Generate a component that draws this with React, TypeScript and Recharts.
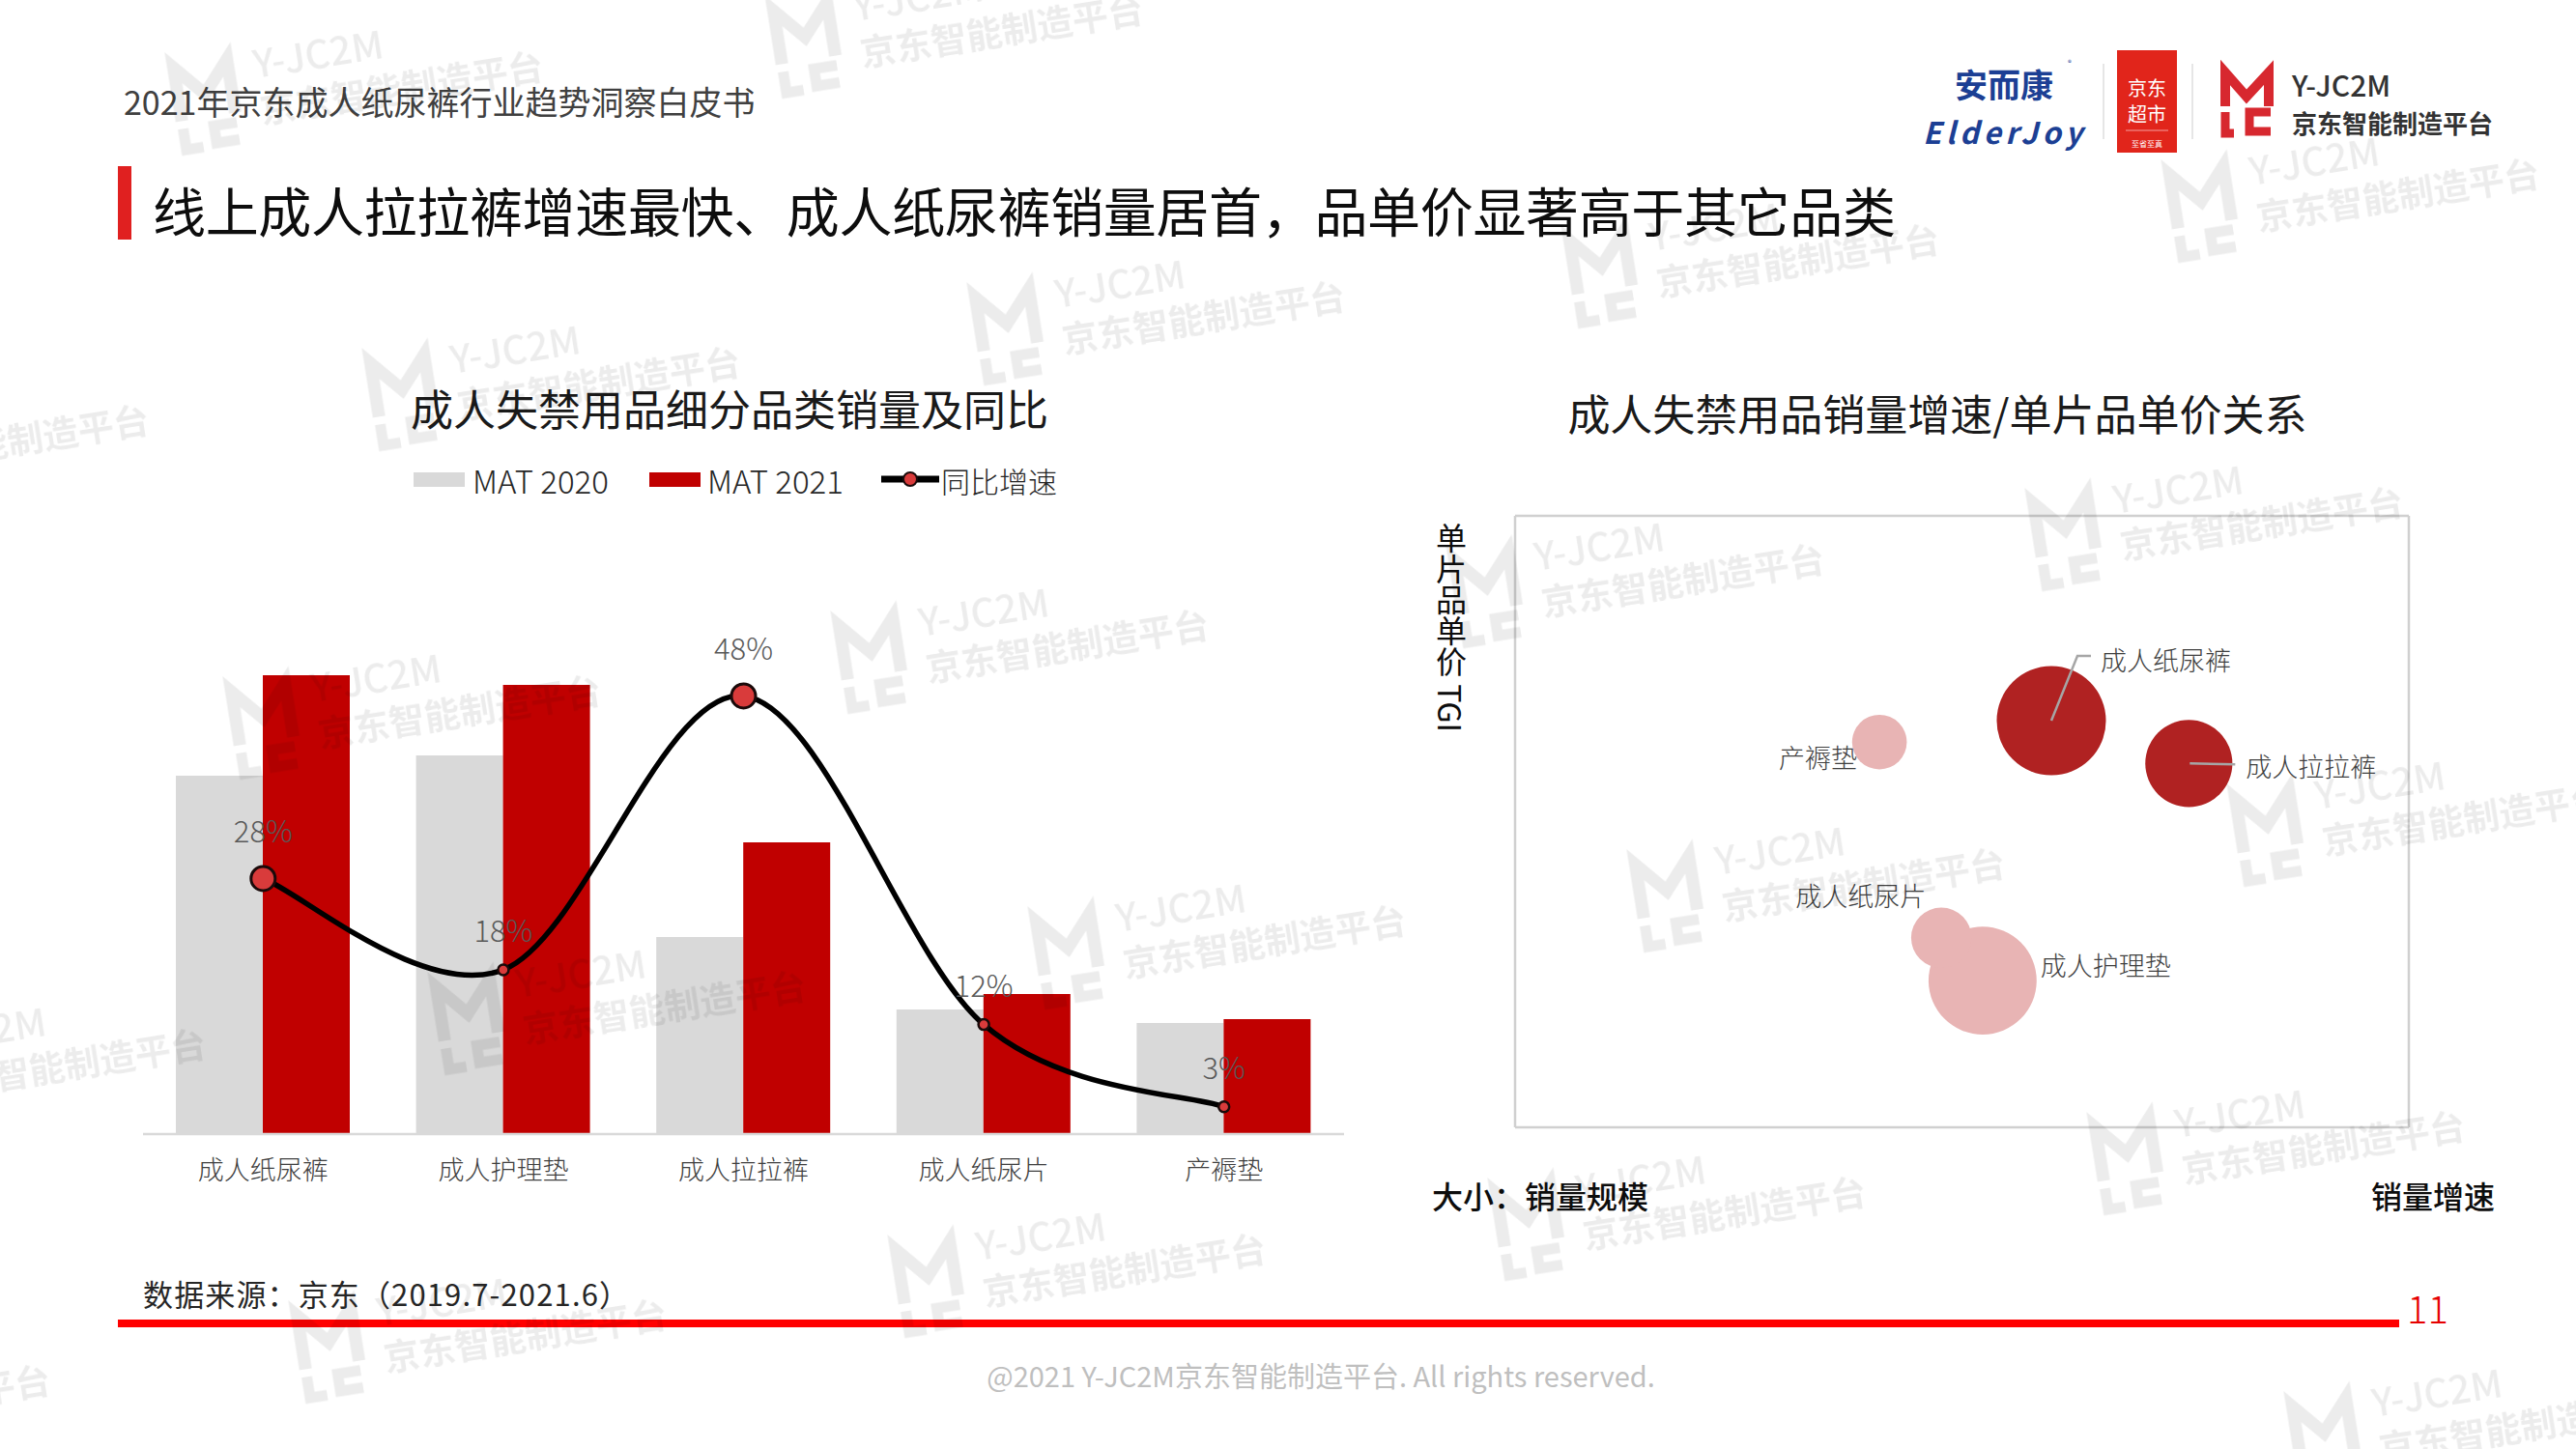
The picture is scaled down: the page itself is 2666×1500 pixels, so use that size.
import React from "react";
import {
  ComposedChart,
  Bar,
  Line,
  XAxis,
  YAxis,
  ScatterChart,
  Scatter,
  ZAxis,
  CartesianGrid,
} from "recharts";

const FONT = '"Noto Sans CJK SC", "Noto Sans", sans-serif';

// left chart: sales by sub-category (relative units) and YoY growth (%)
const categories = ["成人纸尿裤", "成人护理垫", "成人拉拉裤", "成人纸尿片", "产褥垫"];
const mat2020 = [3.71, 3.92, 2.04, 1.29, 1.15];
const mat2021 = [4.75, 4.65, 3.02, 1.45, 1.19];
const yoyGrowth = [28, 18, 48, 12, 3];

// right chart: unit price TGI per category (same order as categories)
const priceTgi = [133, 48, 119, 62, 126];

const barData = categories.map((name, i) => ({
  name,
  mat2020: mat2020[i],
  mat2021: mat2021[i],
  rate: yoyGrowth[i],
}));

const bubbleData = categories.map((name, i) => ({
  name,
  growth: yoyGrowth[i],
  tgi: priceTgi[i],
  size: mat2021[i],
}));

const BIG_DOTS = [0, 2];

// label placement around each bubble (offsets from the bubble centre)
const bubbleLabels: Record<string, { dx: number; dy: number; anchor: "start" | "end"; leader?: number[][] }> = {
  成人纸尿裤: { dx: 51, dy: -64, anchor: "start", leader: [[0, 0], [27, -67], [41, -67]] },
  成人拉拉裤: { dx: 59, dy: 2, anchor: "start", leader: [[1, 0], [48, 1]] },
  产褥垫: { dx: -23, dy: 15, anchor: "end" },
  成人纸尿片: { dx: -16, dy: -44, anchor: "end" },
  成人护理垫: { dx: 60, dy: -17, anchor: "start" },
};

// watermark anchors (page pixels)
const WATERMARKS = [
  [842, 43], [221, 102], [2287, 213], [1666, 281], [1051, 340], [425, 408], [-187, 468],
  [2146, 553], [1547, 612], [910, 680], [281, 748], [2355, 859], [1734, 927], [1114, 986],
  [493, 1054], [-128, 1114], [2210, 1199], [1590, 1267], [969, 1326], [349, 1394], [2414, 1488],
  [-289, 1462],
];

// Excel style smoothed line (uniform Catmull-Rom as cubic beziers)
const excelSmooth: any = (context: any) => {
  let pts: number[][] = [];
  return {
    areaStart() {},
    areaEnd() {},
    lineStart() {
      pts = [];
    },
    point(x: number, y: number) {
      pts.push([+x, +y]);
    },
    lineEnd() {
      if (!pts.length) return;
      context.moveTo(pts[0][0], pts[0][1]);
      for (let i = 0; i < pts.length - 1; i++) {
        const p0 = pts[Math.max(i - 1, 0)];
        const p1 = pts[i];
        const p2 = pts[i + 1];
        const p3 = pts[Math.min(i + 2, pts.length - 1)];
        context.bezierCurveTo(
          p1[0] + (p2[0] - p0[0]) / 6,
          p1[1] + (p2[1] - p0[1]) / 6,
          p2[0] - (p3[0] - p1[0]) / 6,
          p2[1] - (p3[1] - p1[1]) / 6,
          p2[0],
          p2[1]
        );
      }
    },
  };
};

const RateDot = (props: any) => {
  const { cx, cy, index, value } = props;
  if (cx == null || cy == null) return null;
  const big = BIG_DOTS.includes(index);
  return (
    <g key={`rate-${index}`}>
      <circle cx={cx} cy={cy} r={big ? 12.5 : 5.5} fill="#d93b3b" stroke="#1a0a0a" strokeWidth={big ? 3 : 2.5} />
      <text
        x={cx}
        y={cy - (big ? 51 : 42)}
        textAnchor="middle"
        dominantBaseline="central"
        fontSize={31}
        fontWeight={300}
        fill="#595959"
      >
        {value}%
      </text>
    </g>
  );
};

const BubbleShape = (props: any) => {
  const { cx, cy, width, size, payload } = props;
  const r = width ? width / 2 : Math.sqrt(size / Math.PI);
  const hot = payload.growth > 20 && payload.tgi > 100;
  const lab = bubbleLabels[payload.name];
  return (
    <g>
      <circle cx={cx} cy={cy} r={r} fill={hot ? "#b02222" : "#e8b4b4"} />
      {lab.leader && (
        <polyline
          points={lab.leader.map((p) => `${cx + p[0]},${cy + p[1]}`).join(" ")}
          fill="none"
          stroke="#a6a6a6"
          strokeWidth={2.5}
        />
      )}
      <text
        x={cx + lab.dx}
        y={cy + lab.dy}
        textAnchor={lab.anchor}
        dominantBaseline="central"
        fontSize={27}
        fontWeight={300}
        fill="#404040"
      >
        {payload.name}
      </text>
    </g>
  );
};

function Watermark({ x, y }: { x: number; y: number }) {
  return (
    <g transform={`translate(${x} ${y}) rotate(-9)`}>
      <path d="M -36 18 V -38 L -8 -6 L 20 -38 V 18" fill="none" stroke="#000" strokeWidth={13} />
      <path d="M -36 26 V 48 H -18 M 20 28 H -4 V 46 H 20" fill="none" stroke="#000" strokeWidth={11} />
      <text x={46} y={-14} fontSize={40} fontWeight={500}>
        Y-JC2M
      </text>
      <text x={46} y={34} fontSize={37} fontWeight={700}>
        京东智能制造平台
      </text>
    </g>
  );
}

function Decor() {
  return (
    <svg width={2666} height={1500} style={{ position: "absolute", left: 0, top: 0 }}>
      {/* header */}
      <text x={128} y={104} fontSize={34} fill="#404040" dominantBaseline="central">
        2021年京东成人纸尿裤行业趋势洞察白皮书
      </text>
      <rect x={122} y={172} width={14} height={76} fill="#e02020" />
      <text x={158} y={216} fontSize={55} fill="#0d0d0d" dominantBaseline="central" textLength={1804}>
        线上成人拉拉裤增速最快、成人纸尿裤销量居首，品单价显著高于其它品类
      </text>

      {/* logos */}
      <text x={2074} y={86} fontSize={34} fontWeight={700} fill="#1c3f94" textAnchor="middle" dominantBaseline="central">
        安而康
      </text>
      <text x={2140} y={68} fontSize={8} fill="#1c3f94">®</text>
      <text x={1990} y={135} fontSize={31} fontWeight={700} fontStyle="italic" fill="#1c3f94" dominantBaseline="central" textLength={165}>
        ElderJoy
      </text>
      <line x1={2177} y1={66} x2={2177} y2={144} stroke="#e6e6e6" strokeWidth={2} />
      <rect x={2191} y={52} width={62} height={106} fill="#e1251b" />
      <text x={2222} y={90} fontSize={20} fill="#fff" textAnchor="middle" dominantBaseline="central">京东</text>
      <text x={2222} y={117} fontSize={20} fill="#fff" textAnchor="middle" dominantBaseline="central">超市</text>
      <line x1={2200} y1={135} x2={2244} y2={135} stroke="#f6a0a0" strokeWidth={1} />
      <text x={2222} y={148} fontSize={8} fill="#fff" textAnchor="middle" dominantBaseline="central">至省至真</text>
      <line x1={2269} y1={66} x2={2269} y2={144} stroke="#e6e6e6" strokeWidth={2} />
      <g transform="translate(2298 70)">
        <path d="M 5 40 V 5 L 27 30 L 50 5 V 40" fill="none" stroke="#d7282f" strokeWidth={10} />
        <path d="M 5 46 V 68 H 14 M 52 46 H 30 V 66 H 52" fill="none" stroke="#d7282f" strokeWidth={9} />
      </g>
      <text x={2372} y={87} fontSize={30} fontWeight={500} fill="#333" dominantBaseline="central">Y-JC2M</text>
      <text x={2372} y={126} fontSize={26} fontWeight={700} fill="#333" dominantBaseline="central">京东智能制造平台</text>

      {/* left chart title + legend */}
      <text x={755} y={422} fontSize={44} fill="#1a1a1a" textAnchor="middle" dominantBaseline="central">
        成人失禁用品细分品类销量及同比
      </text>
      <rect x={428} y={489} width={53} height={15} fill="#d9d9d9" />
      <text x={489} y={497} fontSize={33} fontWeight={300} fill="#262626" dominantBaseline="central">MAT 2020</text>
      <rect x={672} y={489} width={53} height={15} fill="#c00000" />
      <text x={732} y={497} fontSize={33} fontWeight={300} fill="#262626" dominantBaseline="central">MAT 2021</text>
      <line x1={912} y1={496} x2={972} y2={496} stroke="#000" strokeWidth={7} />
      <circle cx={942} cy={496} r={7} fill="#d93b3b" stroke="#1a0a0a" strokeWidth={2} />
      <text x={974} y={497} fontSize={30} fontWeight={300} fill="#262626" dominantBaseline="central">同比增速</text>

      {/* right chart title + captions */}
      <text x={2005} y={427} fontSize={44} fill="#1a1a1a" textAnchor="middle" dominantBaseline="central">
        成人失禁用品销量增速/单片品单价关系
      </text>
      <text x={1502} y={541} fontSize={32} fill="#0d0d0d" style={{ writingMode: "vertical-rl" }}>
        单片品单价 TGI
      </text>
      <text x={1482} y={1237} fontSize={32} fontWeight={500} fill="#0d0d0d" dominantBaseline="central">
        大小：销量规模
      </text>
      <text x={2454} y={1237} fontSize={32} fontWeight={500} fill="#0d0d0d" dominantBaseline="central">
        销量增速
      </text>

      {/* footer */}
      <text x={148} y={1338} fontSize={31} fill="#262626" dominantBaseline="central" textLength={503}>
        数据来源：京东（2019.7-2021.6）
      </text>
      <rect x={122} y={1366} width={2361} height={8} fill="#ff0000" />
      <text x={2491} y={1353} fontSize={40} fontWeight={300} fill="#e60000" dominantBaseline="central">11</text>
      <text x={1367} y={1423} fontSize={29} fill="#bfbfbf" textAnchor="middle" dominantBaseline="central">
        @2021 Y-JC2M京东智能制造平台. All rights reserved.
      </text>
    </svg>
  );
}

export default function App() {
  return (
    <div
      style={{
        position: "absolute",
        left: 0,
        top: 0,
        width: 2666,
        height: 1500,
        background: "#fff",
        overflow: "hidden",
        fontFamily: FONT,
      }}
    >
      <Decor />

      <div style={{ position: "absolute", left: 100, top: 380 }}>
        <ComposedChart
          width={1350}
          height={900}
          data={barData}
          margin={{ top: 194, right: 59, bottom: 46, left: 48 }}
          barGap={0}
        >
          <XAxis
            dataKey="name"
            height={60}
            interval={0}
            tickLine={false}
            tickMargin={22}
            axisLine={{ stroke: "#d9d9d9", strokeWidth: 2.5 }}
            tick={{ fontSize: 27, fill: "#404040", fontWeight: 300 }}
          />
          <YAxis yAxisId="vol" hide domain={[0, 6]} allowDataOverflow />
          <YAxis yAxisId="rate" hide orientation="right" domain={[0, 63.5]} allowDataOverflow />
          <Bar yAxisId="vol" dataKey="mat2020" fill="#d9d9d9" barSize={90} isAnimationActive={false} />
          <Bar yAxisId="vol" dataKey="mat2021" fill="#c00000" barSize={90} isAnimationActive={false} />
          <Line
            yAxisId="rate"
            dataKey="rate"
            type={excelSmooth}
            stroke="#000"
            strokeWidth={5.5}
            dot={RateDot}
            activeDot={false}
            isAnimationActive={false}
          />
        </ComposedChart>
      </div>

      <div style={{ position: "absolute", left: 1460, top: 500 }}>
        <ScatterChart width={1120} height={760} margin={{ top: 34, right: 87, bottom: 93, left: 108 }}>
          <CartesianGrid stroke="#d0d0d0" strokeWidth={2.5} />
          <XAxis
            type="number"
            dataKey="growth"
            domain={[-50, 80]}
            ticks={[-50, 20, 80]}
            allowDataOverflow
            height={0}
            tick={false}
            tickLine={false}
            axisLine={false}
          />
          <YAxis
            type="number"
            dataKey="tgi"
            domain={[0, 200]}
            ticks={[0, 100, 200]}
            allowDataOverflow
            width={0}
            tick={false}
            tickLine={false}
            axisLine={false}
          />
          <ZAxis type="number" dataKey="size" domain={[0, 5]} range={[0, 10560]} />
          <Scatter data={bubbleData} shape={BubbleShape} isAnimationActive={false} />
        </ScatterChart>
      </div>

      <svg
        width={2666}
        height={1500}
        style={{ position: "absolute", left: 0, top: 0, pointerEvents: "none" }}
      >
        <g opacity={0.075} fill="#000">
          {WATERMARKS.map(([x, y], i) => (
            <Watermark key={i} x={x} y={y} />
          ))}
        </g>
      </svg>
    </div>
  );
}
